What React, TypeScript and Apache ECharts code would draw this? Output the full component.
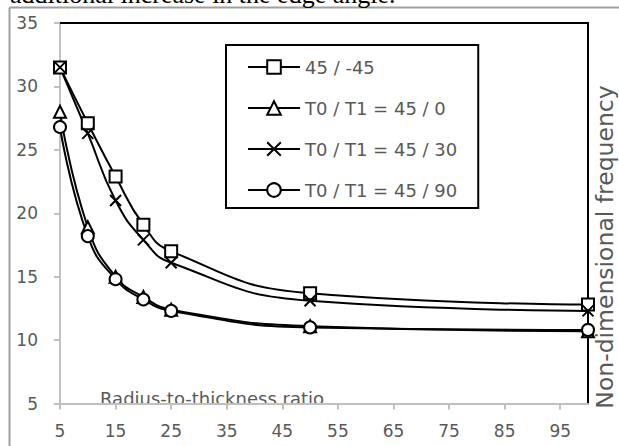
import React, { useEffect, useRef } from "react";
import * as echarts from "echarts";

const xValues = [5, 10, 15, 20, 25, 50, 100];
const seriesNames = ["45 / -45", "T0 / T1 = 45 / 0", "T0 / T1 = 45 / 30", "T0 / T1 = 45 / 90"];
const valsA = [31.5, 27.1, 22.9, 19.1, 17.0, 13.7, 12.8];
const valsB = [28.0, 18.9, 15.0, 13.4, 12.4, 11.1, 10.7];
const valsC = [31.5, 26.3, 21.0, 17.9, 16.1, 13.1, 12.3];
const valsD = [26.8, 18.2, 14.8, 13.2, 12.3, 11.0, 10.8];
const xTickValues = [5, 15, 25, 35, 45, 55, 65, 75, 85, 95];
const xAxisTitle = "Radius-to-thickness ratio";
const yAxisTitle = "Non-dimensional frequency";
const pageText = "additional increase in the edge angle.";

const FONT = "DejaVu Sans";
const GRAY_TEXT = "#595959";
const AXIS_GRAY = "#c0c0c0";

export default function App() {
  const ref = useRef<HTMLDivElement>(null);
  useEffect(() => {
    if (!ref.current) return;
    const chart = echarts.init(ref.current, null, { renderer: "svg" });
    const symbols = ["rect", "triangle", "path://M0,0L10,10M10,0L0,10", "circle"];
    const all = [valsA, valsB, valsC, valsD];
    const series = all.map((vals, i) => ({
      name: seriesNames[i],
      type: "line",
      smooth: true,
      clip: false,
      data: xValues.map((x, j) => [x, vals[j]]),
      symbol: symbols[i],
      symbolSize: i === 2 ? 11 : 12,
      showAllSymbol: true,
      lineStyle: { color: "#000", width: 2 },
      itemStyle: { color: "#fff", borderColor: "#000", borderWidth: 2 },
      emphasis: { disabled: true },
    }));
    chart.setOption({
      animation: false,
      backgroundColor: "#fff",
      grid: { left: 60, right: 31, top: 23, bottom: 42.5, containLabel: false },
      legend: {
        data: seriesNames,
        orient: "vertical",
        left: 226,
        top: 45,
        itemWidth: 52,
        itemHeight: 17,
        itemGap: 23,
        padding: [13, 21, 9, 21],
        borderColor: "#000",
        borderWidth: 2,
        textStyle: { fontFamily: FONT, fontSize: 18, color: GRAY_TEXT },
        selectedMode: false,
      },
      xAxis: [
        {
          type: "value",
          min: 5,
          max: 100,
          axisLine: { onZero: false, lineStyle: { color: AXIS_GRAY, width: 2 } },
          axisTick: { show: true, length: 6, lineStyle: { color: AXIS_GRAY, width: 2 }, customValues: xTickValues },
          axisLabel: { fontFamily: FONT, fontSize: 17, color: GRAY_TEXT, margin: 19, customValues: xTickValues },
          splitLine: { show: false },
        },
        {
          type: "value",
          position: "top",
          min: 5,
          max: 100,
          axisLine: { onZero: false, lineStyle: { color: "#000", width: 2 } },
          axisTick: { show: false },
          axisLabel: { show: false },
          splitLine: { show: false },
        },
      ],
      yAxis: [
        {
          type: "value",
          min: 5,
          max: 35,
          interval: 5,
          axisLine: { show: true, onZero: false, lineStyle: { color: AXIS_GRAY, width: 2 } },
          axisTick: { show: true, length: 6, lineStyle: { color: AXIS_GRAY, width: 2 } },
          axisLabel: { fontFamily: FONT, fontSize: 17, color: GRAY_TEXT, margin: 22 },
          splitLine: { show: false },
        },
        {
          type: "value",
          position: "right",
          min: 5,
          max: 35,
          interval: 5,
          axisLine: { show: true, onZero: false, lineStyle: { color: "#000", width: 2 } },
          axisTick: { show: false },
          axisLabel: { show: false },
          splitLine: { show: false },
        },
      ],
      graphic: [
        {
          type: "line",
          shape: { x1: 9.5, y1: 7.5, x2: 619, y2: 7.5 },
          style: { stroke: "#a0a0a0", lineWidth: 2 },
          silent: true,
        },
        {
          type: "line",
          shape: { x1: 9.5, y1: 7.5, x2: 9.5, y2: 446 },
          style: { stroke: "#a0a0a0", lineWidth: 2 },
          silent: true,
        },
        {
          type: "text",
          x: 10,
          y: -6,
          style: {
            text: pageText,
            fontFamily: "Liberation Serif",
            fontSize: 26,
            fill: "#000",
            align: "left",
            verticalAlign: "middle",
          },
          silent: true,
        },
        {
          type: "text",
          x: 100,
          y: 398,
          style: {
            text: xAxisTitle,
            fontFamily: FONT,
            fontSize: 18,
            fill: GRAY_TEXT,
            align: "left",
            verticalAlign: "middle",
          },
          silent: true,
        },
        {
          type: "text",
          x: 605,
          y: 247,
          rotation: Math.PI / 2,
          style: {
            text: yAxisTitle,
            fontFamily: FONT,
            fontSize: 23.5,
            fill: GRAY_TEXT,
            align: "center",
            verticalAlign: "middle",
          },
          silent: true,
        },
      ],
      series,
    });
    return () => chart.dispose();
  }, []);
  return (
    <div
      ref={ref}
      style={{ position: "absolute", left: 0, top: 0, width: 619, height: 446 }}
    />
  );
}
